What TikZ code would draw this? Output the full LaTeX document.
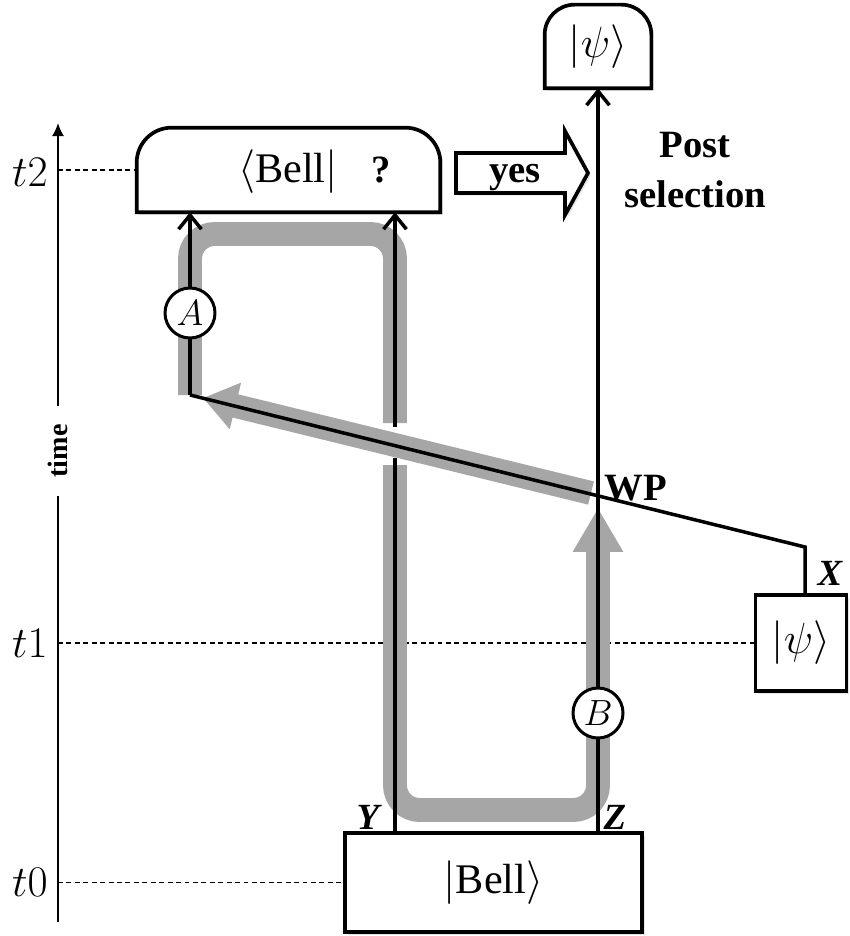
\documentclass[tikz,border=0pt]{standalone}
\usepackage{amsmath}
\usepackage{fontspec}
\setmainfont{Liberation Serif}
\usetikzlibrary{positioning,arrows.meta,calc,shadows}

\begin{document}
\begin{tikzpicture}[
    x=0.02cm, y=-0.02cm,
    box/.style={draw, line width=2.1pt, fill=white, inner sep=0pt,
        drop shadow={opacity=0.2, shadow xshift=1.5pt, shadow yshift=-1.5pt}},
    wire/.style={line width=2pt},
    meet/.style={wire, -{Straight Barb[length=8pt, width=13pt, line width=2pt]}},
    flow/.style={line width=13.6pt, black!35},
    timeline/.style={line width=0.9pt, dash pattern=on 2.8pt off 2pt},
    probe/.style={circle, draw, line width=1.7pt, fill=white, minimum size=1cm,
        inner sep=0pt, font=\fontsize{21}{24}\selectfont},
    big/.style={font=\fontsize{24}{28}\selectfont},
    strong/.style={font=\fontsize{22}{28}\selectfont\bfseries},
    portlbl/.style={font=\fontsize{21}{24}\selectfont\bfseries\itshape}
]
\useasboundingbox (0,0) rectangle (849,936);

% boxes
\node[minimum width=6.06cm, minimum height=1.68cm] (meas) at (288.5,170) {};
\filldraw[box] (meas.south west) -- ([yshift=-0.7cm]meas.north west)
    arc[start angle=180, end angle=90, radius=0.7cm] -- ([xshift=-0.7cm]meas.north east)
    arc[start angle=90, end angle=0, radius=0.7cm] -- (meas.south east) -- cycle;
\node[big] (bellbra) at (288,172) {$\langle$Bell$|$};
\node[strong] (quest) at (381,170) {?};

\node[minimum width=2.12cm, minimum height=1.66cm] (psiout) at (598,46.5) {};
\filldraw[box] (psiout.south west) -- ([yshift=-0.6cm]psiout.north west)
    arc[start angle=180, end angle=90, radius=0.6cm] -- ([xshift=-0.6cm]psiout.north east)
    arc[start angle=90, end angle=0, radius=0.6cm] -- (psiout.south east) -- cycle;
\node[big] at (psiout) {$|\psi\rangle$};

\node[box, big, minimum width=1.82cm, minimum height=1.92cm] (psiin) at (801,643) {$|\psi\rangle$};
\node[box, big, minimum width=5.94cm, minimum height=1.98cm] (bellin) at (493.5,882.5) {$|$Bell$\rangle$};

% yes arrow + post selection
\filldraw[box] (456,153) -- (565,153) -- (565,131) -- (588,173) -- (565,215)
    -- (565,193) -- (456,193) -- cycle;
\node[strong, anchor=base] (yes) at (515,182) {yes};
\node[strong, align=center] (post) at (695,170) {Post\\selection};

% time axis
\coordinate (axisbot) at (58,922);
\coordinate (axistop) at (58,123);
\node[rotate=90, inner xsep=0.36cm, font=\fontsize{16}{18}\selectfont\bfseries] (timelbl) at (58,451) {time};
\draw[line width=1.2pt] (axisbot) -- (timelbl.west);
\draw[line width=1.2pt, -{Latex[length=7.5pt, width=7pt]}] (timelbl.east) -- (axistop);

\node[big, anchor=east, inner sep=0pt] (t2) at (48,172) {$t2$};
\node[big, anchor=east, inner sep=0pt] (t1) at (48,643) {$t1$};
\node[big, anchor=east, inner sep=0pt] (t0) at (48,882) {$t0$};
\draw[timeline] (meas.west -| axisbot) -- (meas.west);
\draw[timeline] (psiin.west -| axisbot) -- (psiin.west);
\draw[timeline] (bellin.west -| axisbot) -- (bellin.west);

% gray loop
\draw[flow, rounded corners=14pt] (190,395) -- (190,234) -- (395,234) -- (395,423);
\draw[flow, rounded corners=14pt, -{Triangle[length=25pt, width=27pt]}]
    (395,465) -- (395,810) -- (598,810) -- (598,508);
\draw[flow, -{Triangle[length=19pt, width=26pt]}] (591,493) -- (203,398);

% wires
\coordinate (yfoot) at (395,833);
\coordinate (ygaplo) at (395,458);
\coordinate (ygaphi) at (395,427);
\coordinate (zfoot) at (598,833);
\coordinate (bend) at (190,395);
\coordinate (xknee) at (805,547);

\draw[wire] (yfoot) -- (ygaplo);
\draw[meet] (ygaphi) -- (meas.south -| yfoot);
\draw[meet] (zfoot) -- (psiout.south);
\draw[meet] (bend) -- (meas.south -| bend);
\draw[wire] (psiin.north -| xknee) -- (xknee) -- (bend);

\node[probe] (A) at (190,313) {$A$};
\node[probe] (B) at (598,713) {$B$};

\node[portlbl] (xlbl) at (830,573) {X};
\node[portlbl] (ylbl) at (368,817) {Y};
\node[portlbl] (zlbl) at (615,817) {Z};
\node[strong] (wplbl) at (636,488) {WP};
\end{tikzpicture}
\end{document}
